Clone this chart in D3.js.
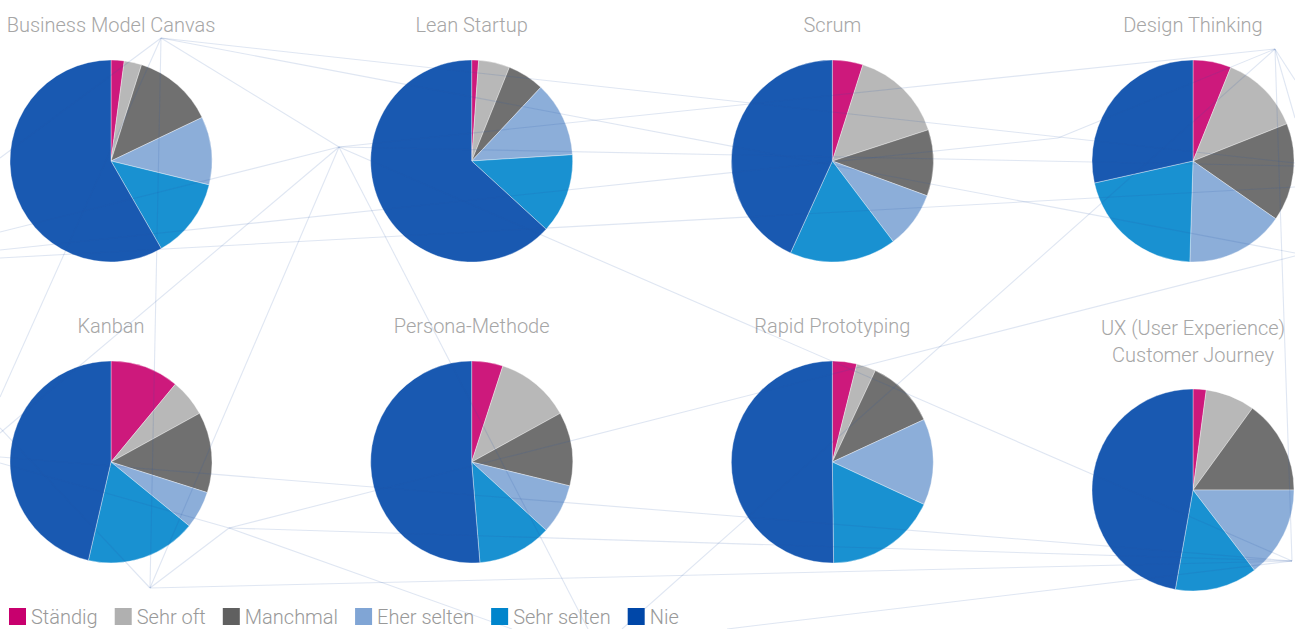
<!DOCTYPE html>
<html>
<head>
<meta charset="utf-8">
<script src="https://cdn.jsdelivr.net/npm/d3@7/dist/d3.min.js"></script>
<style>
  html, body { margin: 0; padding: 0; background: #fff; }
  svg { display: block; }
  text { font-family: Roboto, "Noto Sans", sans-serif; font-weight: 300; }
</style>
</head>
<body>
<svg id="chart" width="1295" height="629"></svg>
<script>
// ---------- DATA ----------
const categories = ["Ständig", "Sehr oft", "Manchmal", "Eher selten", "Sehr selten", "Nie"];
const colors = ["#c8006e", "#b0b0b0", "#606060", "#80a5d5", "#0085cc", "#0047a8"];
const methods = ["Business Model Canvas", "Lean Startup", "Scrum", "Design Thinking",
                 "Kanban", "Persona-Methode", "Rapid Prototyping", "UX (User Experience)|Customer Journey"];
const bmc     = [2.1, 2.8, 13.0, 10.9, 12.9, 58.3];
const lean    = [1.1, 5.0, 5.9, 12.0, 12.8, 63.2];
const scrum   = [4.9, 15.1, 10.6, 9.1, 17.1, 43.2];
const design  = [6.1, 12.9, 15.7, 15.8, 21.0, 28.5];
const kanban  = [11.0, 6.0, 12.9, 6.0, 17.7, 46.4];
const persona = [5.0, 12.0, 11.8, 8.0, 11.9, 51.3];
const rapid   = [3.9, 3.1, 11.1, 13.8, 17.9, 50.2];
const ux      = [2.1, 7.9, 15.0, 14.6, 13.2, 47.2];
const seriesValues = [bmc, lean, scrum, design, kanban, persona, rapid, ux];

// decorative background network (in page units 0..1295 x 0..629)
const bgNodes = {
  A: [161, 38], B: [339, 147], C: [1275, 49], D: [1058, 138],
  E: [150, 588], F: [229, 528], G: [1292, 561],
  a1: [1295, 163], a2: [1295, 253], a3: [0, 397], a4: [0, 158],
  b1: [0, 232], b2: [588, 629], b3: [1295, 166], b4: [0, 433],
  c1: [622, 629], c2: [1295, 80], c3: [1295, 118],
  d1: [0, 250], g1: [0, 457], g2: [727, 629],
  f1: [0, 463], f2: [512, 629], f3: [1295, 256], e1: [0, 428],
  l1: [0, 258], l2: [1295, 187]
};
const bgEdges = [
  ["A","E"],["A","a1"],["A","a2"],["A","B"],["A","a3"],["A","a4"],
  ["B","b1"],["B","b2"],["B","b3"],["B","G"],["B","E"],["B","C"],["B","b4"],
  ["C","D"],["C","c1"],["C","G"],["C","c2"],["C","c3"],
  ["D","d1"],
  ["G","F"],["G","E"],["G","g1"],["G","g2"],
  ["F","E"],["F","f1"],["F","f2"],["F","f3"],
  ["E","e1"],["l1","l2"]
];

// ---------- LAYOUT ----------
const W = 1295, H = 629;
const svg = d3.select("#chart");
svg.append("rect").attr("width", W).attr("height", H).attr("fill", "#fff");

const colX = d3.scaleLinear().domain([0, 3]).range([111, 1193]);
const rowTitleY = [32, 333];
const pieCY = [161, 462];
const R = 101;

const color = d3.scaleOrdinal().domain(categories).range(colors);
const pie = d3.pie().sort(null).value(d => d.v);
const arc = d3.arc().innerRadius(0).outerRadius(R);

const charts = svg.append("g");
methods.forEach((m, i) => {
  const col = i % 4, row = Math.floor(i / 4);
  const lines = m.split("|");
  const cx = colX(col);
  const extra = (lines.length - 1) * 28;
  const g = charts.append("g");
  const t = g.append("text")
    .attr("x", cx).attr("y", rowTitleY[row] + (lines.length - 1) * 2)
    .attr("text-anchor", "middle")
    .attr("font-size", 20).attr("fill", "#a6a6a6");
  lines.forEach((ln, k) => {
    t.append("tspan").attr("x", cx).attr("dy", k === 0 ? 0 : 27).text(ln);
  });
  const data = seriesValues[i].map((v, k) => ({ c: categories[k], v }));
  g.append("g")
    .attr("transform", `translate(${cx},${pieCY[row] + extra})`)
    .selectAll("path").data(pie(data)).join("path")
    .attr("d", arc)
    .attr("fill", d => color(d.data.c))
    .attr("fill-opacity", 0.9)
    .attr("stroke", "#fff").attr("stroke-opacity", 0.6).attr("stroke-width", 0.6);
});

// background network drawn on top, faint
const sx = d3.scaleLinear().domain([0, 1295]).range([0, W]);
const sy = d3.scaleLinear().domain([0, 629]).range([0, H]);
svg.append("g").selectAll("line").data(bgEdges).join("line")
  .attr("x1", d => sx(bgNodes[d[0]][0])).attr("y1", d => sy(bgNodes[d[0]][1]))
  .attr("x2", d => sx(bgNodes[d[1]][0])).attr("y2", d => sy(bgNodes[d[1]][1]))
  .attr("stroke", "rgb(40,90,170)").attr("stroke-opacity", 0.15)
  .attr("stroke-width", 1.1);

// ---------- LEGEND ----------
const leg = svg.append("g");
let lx = 9;
categories.forEach((c, k) => {
  leg.append("rect").attr("x", lx).attr("y", 608).attr("width", 17).attr("height", 17)
    .attr("fill", color(c));
  const tx = leg.append("text").attr("x", lx + 22).attr("y", 624)
    .attr("font-size", 20).attr("fill", "#999").text(c);
  lx = lx + 22 + tx.node().getComputedTextLength() + 17;
});
</script>
</body>
</html>
